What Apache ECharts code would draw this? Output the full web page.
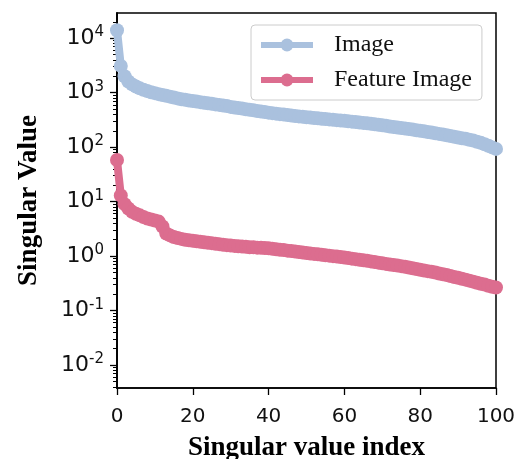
<!DOCTYPE html>
<html>
<head>
<meta charset="utf-8">
<script src="https://cdn.jsdelivr.net/npm/echarts@6/dist/echarts.min.js"></script>
<style>
  html, body { margin: 0; padding: 0; background: #fff; }
  #chart { width: 517px; height: 459px; }
</style>
</head>
<body>
<div id="chart"></div>
<script>
// singular values, index 0..100
var imageVals = [
  14000, 3100, 2000, 1600, 1420, 1300, 1200, 1130, 1070, 1020,
  980, 940, 905, 875, 845, 815, 785, 758, 738, 720,
  703, 686, 670, 654, 639, 624, 610, 596, 583, 570,
  548, 535, 522, 510, 498, 486, 474, 462, 451, 440,
  430, 421, 412, 404, 396, 388, 381, 374, 367, 361,
  355, 349, 343, 338, 333, 328, 323, 318, 313, 308,
  304, 299, 294, 289, 284, 279, 274, 269, 264, 258,
  252, 246, 240, 235, 230, 225, 220, 215, 210, 205,
  200, 195, 190, 185, 180, 175, 170, 165, 160, 155,
  150, 146, 142, 137, 132, 126, 120, 113, 106, 99,
  93
];
var featureVals = [
  58, 13, 9, 7.5, 6.5, 6.0, 5.6, 5.2, 4.9, 4.7,
  4.5, 4.3, 3.5, 2.6, 2.4, 2.25, 2.15, 2.07, 2.0, 1.96,
  1.92, 1.88, 1.84, 1.80, 1.76, 1.73, 1.69, 1.66, 1.62, 1.59,
  1.56, 1.54, 1.52, 1.50, 1.48, 1.46, 1.45, 1.43, 1.42, 1.41,
  1.39, 1.36, 1.34, 1.31, 1.29, 1.26, 1.24, 1.21, 1.19, 1.16,
  1.14, 1.12, 1.10, 1.08, 1.06, 1.04, 1.02, 1.00, 0.98, 0.96,
  0.94, 0.92, 0.90, 0.88, 0.86, 0.84, 0.82, 0.80, 0.78, 0.76,
  0.74, 0.72, 0.70, 0.685, 0.67, 0.655, 0.64, 0.62, 0.60, 0.58,
  0.56, 0.545, 0.53, 0.515, 0.50, 0.48, 0.465, 0.45, 0.43, 0.415,
  0.40, 0.385, 0.37, 0.355, 0.34, 0.325, 0.31, 0.30, 0.285, 0.275,
  0.265
];
var seriesNames = ['Image', 'Feature Image'];
var majorTicks = [0.01, 0.1, 1, 10, 100, 1000, 10000];
var minorTicks = [
  0.004, 0.005, 0.006, 0.007, 0.008, 0.009,
  0.02, 0.03, 0.04, 0.05, 0.06, 0.07, 0.08, 0.09,
  0.2, 0.3, 0.4, 0.5, 0.6, 0.7, 0.8, 0.9,
  2, 3, 4, 5, 6, 7, 8, 9,
  20, 30, 40, 50, 60, 70, 80, 90,
  200, 300, 400, 500, 600, 700, 800, 900,
  2000, 3000, 4000, 5000, 6000, 7000, 8000, 9000,
  20000
];

function toPairs(vals) {
  return vals.map(function (v, i) { return [i, v]; });
}

var chart = echarts.init(document.getElementById('chart'));

chart.setOption({
  animation: false,
  color: ['#aac1de', '#dc6d8f'],
  grid: {
    left: 117, top: 13, right: 21, bottom: 71,
    outerBoundsMode: 'none',
    show: true, borderColor: '#000', borderWidth: 1.5
  },
  legend: {
    data: seriesNames,
    orient: 'vertical',
    left: 251, top: 25,
    padding: [8, 10, 8, 7],
    itemGap: 11,
    itemWidth: 52, itemHeight: 16,
    borderColor: '#ccc', borderWidth: 1, borderRadius: 4,
    backgroundColor: 'rgba(255,255,255,0.85)',
    lineStyle: { width: 6 },
    textStyle: {
      fontFamily: 'Liberation Serif', fontSize: 24, color: '#111',
      padding: [0, 0, 0, 16]
    }
  },
  xAxis: {
    type: 'value',
    min: 0, max: 100, interval: 20,
    name: 'Singular value index',
    nameLocation: 'middle',
    nameGap: 47,
    nameMoveOverlap: false,
    nameTextStyle: { fontFamily: 'Liberation Serif', fontWeight: 'bold', fontSize: 27, color: '#000' },
    axisLine: { lineStyle: { color: '#000', width: 1.5 } },
    axisTick: { length: 7, lineStyle: { color: '#000', width: 1.3 } },
    axisLabel: { fontFamily: 'DejaVu Sans', fontSize: 20, color: '#111', margin: 19 },
    splitLine: { show: false }
  },
  yAxis: [{
    type: 'log',
    min: 0.0038, max: 29000,
    name: 'Singular Value',
    nameLocation: 'middle',
    nameGap: 74,
    nameMoveOverlap: false,
    nameTextStyle: { fontFamily: 'Liberation Serif', fontWeight: 'bold', fontSize: 27, color: '#000' },
    axisLine: { show: true, lineStyle: { color: '#000', width: 1.5 } },
    axisTick: { customValues: majorTicks, length: 7, lineStyle: { color: '#000', width: 1.3 } },
    axisLabel: {
      customValues: majorTicks,
      margin: 13,
      formatter: function (v) {
        return '{b|10}{s|' + Math.round(Math.log10(v)) + '}';
      },
      rich: {
        b: { fontFamily: 'DejaVu Sans', fontSize: 22, color: '#111', lineHeight: 27 },
        s: { fontFamily: 'DejaVu Sans', fontSize: 15, color: '#111', verticalAlign: 'top', lineHeight: 17 }
      }
    },
    splitLine: { show: false }
  }, {
    type: 'log',
    position: 'left',
    offset: 0,
    min: 0.0038, max: 29000,
    axisLine: { show: true, lineStyle: { color: '#000', width: 1.5 } },
    axisTick: { show: true, customValues: minorTicks, length: 4, lineStyle: { color: '#000', width: 1 } },
    axisLabel: { show: true, customValues: minorTicks, formatter: function () { return ''; } },
    splitLine: { show: false }
  }],
  series: [{
    name: seriesNames[0],
    type: 'line',
    data: toPairs(imageVals),
    symbol: 'circle',
    symbolSize: 14,
    lineStyle: { width: 8 },
    emphasis: { disabled: true }
  }, {
    name: seriesNames[1],
    type: 'line',
    data: toPairs(featureVals),
    symbol: 'circle',
    symbolSize: 14,
    lineStyle: { width: 8 },
    emphasis: { disabled: true }
  }]
});
</script>
</body>
</html>
